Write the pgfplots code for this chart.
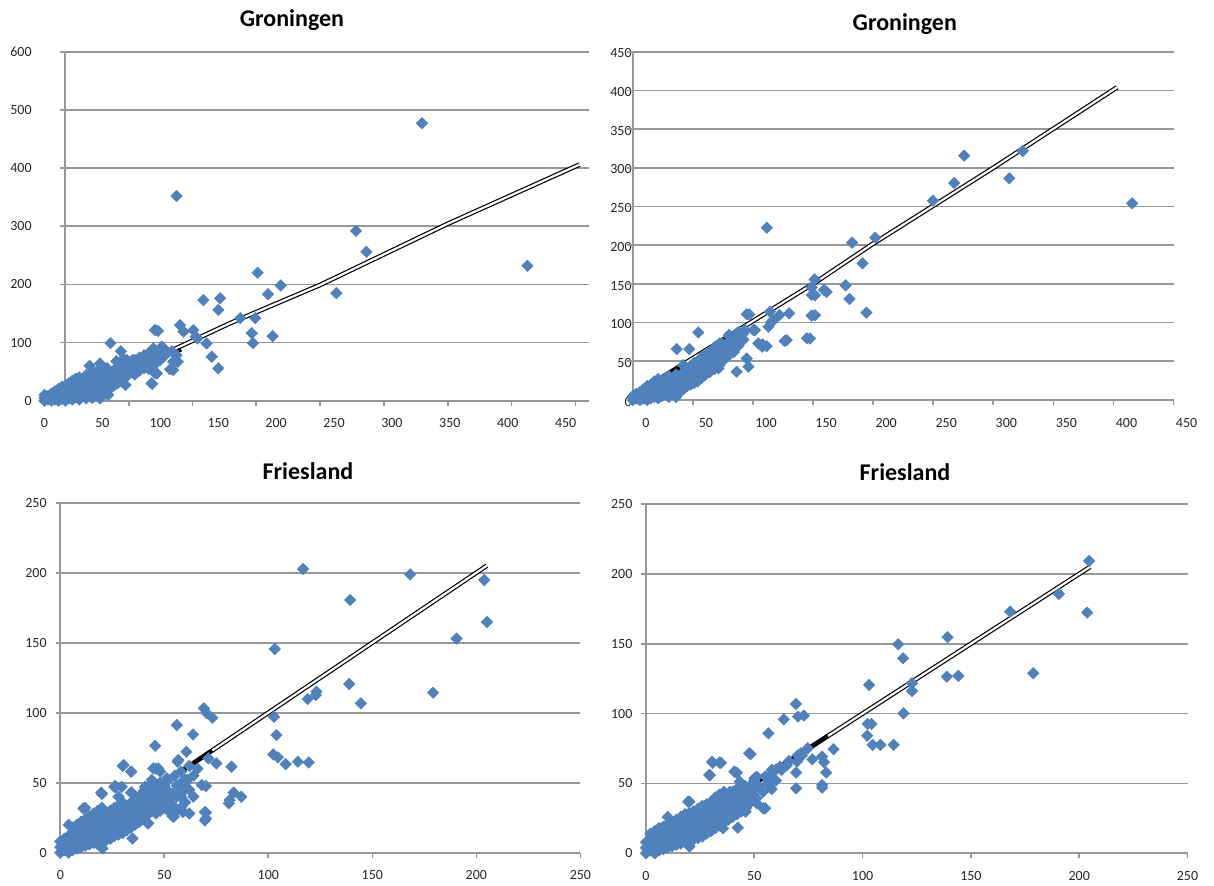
\documentclass[border=0pt]{standalone}
\usepackage{fontspec}
\setmainfont{Carlito}
\usepackage{pgfplots}
\pgfplotsset{compat=1.18}
\definecolor{excelblue}{RGB}{79,129,189}
\definecolor{gridgray}{RGB}{152,152,152}
\tikzset{gl/.style={gridgray, line width=0.85pt}}
\pgfplotsset{
  xlpanel/.style={
    scale only axis, anchor=south west, clip=false,
    axis line style={draw=none}, major tick length=0pt,
    /pgf/number format/assume math mode=true,
    tick label style={font=\fontsize{7}{8}\selectfont, text=black!85},
    xticklabel style={anchor=base, inner sep=0pt, yshift=-13.5pt},
    yticklabel style={anchor=east, inner sep=0pt},
  },
  pts/.style={only marks, mark=square*, mark size=2.05pt,
    mark options={rotate=45, draw=excelblue, fill=excelblue, line width=0.2pt}},
  trend/.style={no marks, black, line width=0.6pt, double=white, double distance=1.1pt},
  blk/.style={no marks, black, line width=2.1pt},
}
\begin{document}
\begin{tikzpicture}
\useasboundingbox (0,0) rectangle (607pt,-442.5pt);
\node[font=\bfseries\fontsize{12}{14}\selectfont, anchor=base] at (146pt,-13.35pt) {Groningen};
\node[font=\bfseries\fontsize{12}{14}\selectfont, anchor=base] at (452.4pt,-15pt) {Groningen};
\node[font=\bfseries\fontsize{12}{14}\selectfont, anchor=base] at (154pt,-239.6pt) {Friesland};
\node[font=\bfseries\fontsize{12}{14}\selectfont, anchor=base] at (452.5pt,-240.3pt) {Friesland};

% Panel 1
\begin{axis}[xlpanel, at={(22.25pt,-200.35pt)}, width=272.15pt, height=174.5pt,
  xmin=0, xmax=470, ymin=0, ymax=600, xtick={0,50,...,450}, ytick={0,100,...,600},
  yticklabel style={xshift=-6.25pt}]
\pgfplotsinvokeforeach{0,100,200,300,400,500,600}{\draw[gl] (axis cs:13.4,#1) -- (axis cs:470,#1);}
\draw[gl] (axis cs:17.6,0) -- (axis cs:17.6,600);
\pgfplotsinvokeforeach{17.6,72.7,127.8,182.9,238,293.1,348.2,403.3,458.4}{\draw[gl] (axis cs:#1,0) -- (axis cs:#1,-8.6);}
\addplot[pts] coordinates {
(0,0)(0,5)(0,10)(3,2)(3,8)(6,0)(6,6)(6,12)(9,2)(9,10)(9,16)(12,0)(12,6)(12,14)(12,20)(15,3)(15,10)(15,18)(15,24)(18,0)(18,8)(18,16)(18,26)(21,4)(21,12)(21,20)(21,30)(24,2)(24,10)(24,18)(24,28)(24,34)(27,6)(27,14)(27,24)(27,38)(30,2)(30,10)(30,20)(30,30)(30,40)(33,8)(33,16)(33,26)(33,36)(36,4)(36,14)(36,22)(36,32)(36,44)(39,10)(39,20)(39,30)(39,40)(39,60)(42,6)(42,16)(42,28)(42,38)(42,50)(45,12)(45,22)(45,34)(45,46)(48,4)(48,18)(48,30)(48,42)(48,55)(48,64)(51,10)(51,24)(51,36)(51,50)(54,16)(54,30)(54,44)(54,56)(57,22)(57,36)(57,48)(57,99)(60,26)(60,40)(60,52)(63,30)(63,44)(63,58)(66,34)(66,48)(66,85)(70,27)(70,40)(70,55)(70,68)(74,50)(74,62)(78,45)(78,58)(78,70)(82,52)(82,64)(82,74)(86,56)(86,66)(86,78)(90,60)(90,72)(90,82)(93,29)(97,47)(41,5)(55,10)
(71,70)(79.6,67)(85.3,72.9)(92.5,75.8)(95.4,121.5)(94,90)(101.2,92.9)(102.6,75.8)(95.4,47)(92.5,29.9)(108.4,54)(111.2,67)(114,78)(117,130)(120,119)(128.5,121.5)(130.5,110)(140,98.6)(144.4,75.6)(150.1,55.7)(137.2,173)(151.6,176)(150.1,156)(75,55)(80,62)(85,58)(88,65)(90,55)(95,62)(100,70)(105,80)(110,85)(100,85)(95,80)(88,72)(82,68)(76,70)(70,62)(65,60)(62,68)(68,72)(97,75)
(114,352)(326,477)(269,292)(278,256)(417,232)(184,220)(204,198)(193,183)(252,185)(169,142)(182,142)(179,116)(197,111)(180,99)(132,107)(98,120)(111,53)(115,67)(103,90)
};
\addplot[trend] coordinates {(10,8)(30,25)(64,44)(160,133)(238,199)(348,304)(462,406)};
\addplot[blk] coordinates {(64,44)(118,88)};
\end{axis}

% Panel 2
\begin{axis}[xlpanel, at={(316.4pt,-200pt)}, width=270.4pt, height=174.15pt,
  xmin=0, xmax=450, ymin=0, ymax=450, xtick={0,50,...,450}, ytick={0,50,...,450},
  xticklabel style={xshift=6.5pt}, yticklabel style={xshift=-0.4pt, yshift=-0.8pt}]
\pgfplotsinvokeforeach{0,50,100,150,200,250,300,350,400,450}{\draw[gl] (axis cs:-5,#1) -- (axis cs:450,#1);}
\draw[gl] (axis cs:0,0) -- (axis cs:0,450);
\pgfplotsinvokeforeach{0,50,100,150,200,250,300,350,400,450}{\draw[gl] (axis cs:#1,0) -- (axis cs:#1,-6.4);}
\addplot[pts] coordinates {
(0,0)(0,5)(3,2)(3,8)(6,0)(6,5)(6,10)(9,2)(9,8)(9,14)(12,0)(12,6)(12,12)(12,18)(15,2)(15,8)(15,14)(15,20)(18,4)(18,10)(18,16)(18,24)(21,2)(21,8)(21,14)(21,20)(21,27)(24,5)(24,12)(24,18)(24,25)(27,8)(27,14)(27,20)(27,28)(30,4)(30,10)(30,17)(30,24)(30,31)(33,8)(33,14)(33,21)(33,28)(36,4)(36,12)(36,18)(36,25)(36,33)(39,10)(39,16)(39,22)(39,30)(42,14)(42,20)(42,28)(42,36)(42,45)(45,18)(45,24)(45,32)(45,40)(48,20)(48,28)(48,36)(48,44)(51,22)(51,30)(51,38)(51,48)(54,24)(54,32)(54,42)(54,50)(57,28)(57,36)(57,46)(57,55)(60,32)(60,40)(60,50)(60,58)(64,36)(64,45)(64,55)(64,62)(68,40)(68,50)(68,60)(68,68)(72,45)(72,56)(72,66)(72,73)(76,52)(76,62)(76,70)(80,58)(80,68)(80,76)(80,84)(84,62)(84,72)(84,80)(88,70)(88,80)(88,88)(92,78)(92,86)
(97,110.5)(54.5,87.3)(36.5,65.8)(47,65.8)(86.4,86)(93.4,90.3)(101.7,90.3)(108,71.8)(111.4,69.6)(128,77.4)(147.4,79.5)(151.6,109.6)(161.3,139.6)(151.6,135.3)(117,103)(94.8,53.7)(96.2,43)(86.4,36.5)(71.2,40.8)(80.9,64.5)(74,73)(86.4,75)(80.9,81.6)
(324.5,321.7)(275.7,315.7)(313.3,286.4)(267.4,280.4)(249.7,257.5)(415.5,254.1)(111.5,222.7)(201.8,209.7)(182.5,203.3)(191.2,176.6)(151.3,155.9)(148.8,145.6)(148.8,135.7)(159.1,142.1)(177.1,148.1)(180.3,130.5)(194.4,112.8)(148.8,109)(130.1,112)(122.1,109.8)(114.1,114.1)(112.8,94.7)(115.4,101.2)(126.3,76.2)(144.9,79.7)(94.8,110.7)(100.3,90.4)(104.4,73.2)(107.6,68.9)
};
\addplot[trend] coordinates {(3,3)(25,30)(152,152)(198,200)(300,300)(403,404)};
\addplot[blk] coordinates {(25,30)(43,45)};
\addplot[blk] coordinates {(66,67)(80,81)};
\end{axis}

% Panel 3
\begin{axis}[xlpanel, at={(30.15pt,-426.35pt)}, width=260.05pt, height=175pt,
  xmin=0, xmax=250, ymin=0, ymax=250, xtick={0,50,...,250}, ytick={0,50,...,250},
  yticklabel style={xshift=-6.65pt}]
\pgfplotsinvokeforeach{0,50,100,150,200,250}{\draw[gl] (axis cs:-2.2,#1) -- (axis cs:250,#1);}
\draw[gl] (axis cs:0,0) -- (axis cs:0,250);
\pgfplotsinvokeforeach{0,50,100,150,200,250}{\draw[gl] (axis cs:#1,0) -- (axis cs:#1,-3.6);}
\addplot[pts] coordinates {
(0,0)(0,4)(0,8)(2,2)(2,6)(2,10)(4,0)(4,4)(4,8)(4,12)(4,20)(6,2)(6,6)(6,10)(6,14)(6,18)(8,3)(8,7)(8,11)(8,15)(8,20)(10,4)(10,8)(10,12)(10,17)(10,22)(12,5)(12,9)(12,13)(12,18)(12,24)(12,32)(14,6)(14,10)(14,15)(14,20)(14,26)(16,7)(16,12)(16,17)(16,22)(16,28)(18,6)(18,10)(18,14)(18,19)(18,24)(18,30)(20,8)(20,12)(20,16)(20,21)(20,26)(20,32)(20,42)(22,9)(22,14)(22,18)(22,23)(22,28)(24,10)(24,15)(24,20)(24,25)(24,30)(26,12)(26,17)(26,22)(26,27)(26,32)(26,47)(28,13)(28,18)(28,24)(28,29)(28,34)(28,40)(30,14)(30,20)(30,26)(30,31)(30,36)(30,62)(32,16)(32,22)(32,28)(32,33)(34,18)(34,24)(34,30)(34,36)(34,43)(34,58)(36,20)(36,26)(36,32)(36,38)(38,22)(38,28)(38,34)(38,40)(40,24)(40,30)(40,36)(40,44)(42,27)(42,33)(42,39)(42,47)(44,30)(44,36)(44,42)(44,52)(46,28)(46,34)(46,40)(46,48)(46,60)(48,30)(48,38)(48,44)(48,58)(50,32)(50,40)(50,48)(52,30)(52,36)(52,44)(54,26)(54,34)(54,42)(58,32)(58,40)
(56.7,66.2)(44.7,60.3)(26.3,47.6)(34.3,43)(40.7,47.1)(42.3,21)(58.5,50.5)(68,48.4)(69.5,29)(69.5,23)(40,40)(44,45)(48,50)(52,52)(55,55)(58,58)(62,62)(50,44)(56,48)(60,52)(64,55)(62,45)(58,42)(66,60)(48,36)(52,38)(56,40)(60,36)(64,40)(48,32)(52,32)(56,30)(59,29)(62,28)
(116.7,202.6)(168.2,198.8)(203.8,194.8)(139.3,180.5)(205.1,164.8)(190.5,152.9)(103.1,145.5)(138.9,120.5)(179.2,114.3)(123.1,115)(122.8,112.6)(118.9,109.8)(144.5,106.7)(69,103.1)(70.5,99.5)(73.1,96.4)(102.7,97.1)(56,91.2)(103.9,84)(63.8,84.5)(45.6,76.4)(60.6,72.1)(102.4,70.2)(104.6,68.1)(71.2,67.4)(108.3,63.3)(114.2,65)(119.4,64.5)(56.4,65)(82.3,61.4)(75,63.8)(30.4,62.6)(34.1,57.9)(47.1,60.2)(51.2,53.1)(61,51.9)(70,47.6)(60.1,46)(26.7,47.1)(19.7,42.9)(29.5,47.1)(49,44.3)(83.3,42.9)(87,40)(81.4,37.6)(81,35.2)(70,28.6)(70,24.5)(54.5,25.7)(42.1,21)(34.7,10.2)(20.2,3.1)(11.1,31.7)
};
\addplot[trend] coordinates {(2,2)(205,205)};
\addplot[blk] coordinates {(39,39)(73,73)};
\end{axis}

% Panel 4
\begin{axis}[xlpanel, at={(323pt,-426.65pt)}, width=270.75pt, height=174.65pt,
  xmin=0, xmax=250, ymin=0, ymax=250, xtick={0,50,...,250}, ytick={0,50,...,250},
  yticklabel style={xshift=-6.6pt}]
\pgfplotsinvokeforeach{0,50,100,150,200,250}{\draw[gl] (axis cs:-2.1,#1) -- (axis cs:250,#1);}
\draw[gl] (axis cs:0,0) -- (axis cs:0,250);
\pgfplotsinvokeforeach{0,50,100,150,200,250}{\draw[gl] (axis cs:#1,0) -- (axis cs:#1,-3.6);}
\addplot[pts] coordinates {
(0,0)(0,4)(0,8)(2,2)(2,6)(2,10)(2,14)(4,0)(4,4)(4,8)(4,12)(4,16)(6,2)(6,6)(6,10)(6,14)(6,18)(8,3)(8,7)(8,11)(8,15)(8,19)(10,4)(10,8)(10,12)(10,16)(10,21)(10,26)(12,5)(12,9)(12,13)(12,17)(12,22)(14,6)(14,10)(14,14)(14,19)(14,24)(16,7)(16,12)(16,16)(16,21)(16,26)(18,8)(18,13)(18,18)(18,23)(18,28)(20,9)(20,14)(20,19)(20,24)(20,29)(20,37)(22,10)(22,15)(22,20)(22,25)(22,30)(24,11)(24,16)(24,22)(24,27)(24,32)(26,12)(26,18)(26,24)(26,29)(26,34)(28,14)(28,20)(28,26)(28,31)(28,35)(30,16)(30,22)(30,28)(30,33)(30,37)(32,18)(32,24)(32,30)(32,35)(32,40)(34,20)(34,26)(34,32)(34,37)(34,42)(36,22)(36,28)(36,34)(36,39)(36,44)(38,24)(38,30)(38,36)(38,41)(40,26)(40,32)(40,38)(40,44)(42,28)(42,34)(42,40)(42,46)(44,30)(44,36)(44,42)(44,48)(46,32)(46,38)(46,44)(48,36)(48,42)(48,48)(50,40)(50,46)(50,52)
(48.3,71)(30.8,64.8)(34.6,64.8)(29.5,56)(41.9,57.7)(51.1,54.8)(55,55)(58,57)(60,60)(62,62)(65,63)(52,48)(56,50)(60,52)(48,45)(51.1,35.8)(44.9,40.5)(38.8,44)(55,32.2)(54,44)(58,46)(46,48)(50,50)(70,70)(72,70)(66,66)
(204.6,209.3)(190.6,185.7)(168.1,173)(203.7,172.3)(139.2,154.7)(116.4,149.6)(118.7,139.6)(178.8,128.9)(138.9,126.5)(144.2,127)(122.8,121.7)(122.8,116.2)(103,120.5)(118.9,100.2)(102.3,92.6)(104.1,92.6)(102.1,84.2)(104.6,77.6)(108.2,77.6)(114.3,77.6)(69.2,106.9)(70.2,97.9)(72.9,98.6)(63.6,95.9)(56.5,85.9)(86.6,74.5)(74.7,75.2)(71.5,71.6)(47.6,71.6)(76.8,67.3)(81.3,69.2)(82.2,65.2)(83.2,57.8)(81.3,48.9)(81.3,47)(69.3,57.8)(69.3,46.5)(69.7,65.6)(30.5,65.6)(34,64.9)(29.2,56.1)(40.8,58.5)(43.3,51.3)(62.6,59.7)(58.1,59.7)(57.2,50.1)(50.1,53.7)(51,39.4)(54.2,32.2)(46,29.8)(42.4,18.4)(35.5,17.9)(20.1,4.8)(19.4,37)
};
\addplot[trend] coordinates {(2,2)(205,205)};
\addplot[blk] coordinates {(38,38)(70,70)};
\addplot[blk] coordinates {(75,75)(84,84)};
\end{axis}
\end{tikzpicture}
\end{document}
